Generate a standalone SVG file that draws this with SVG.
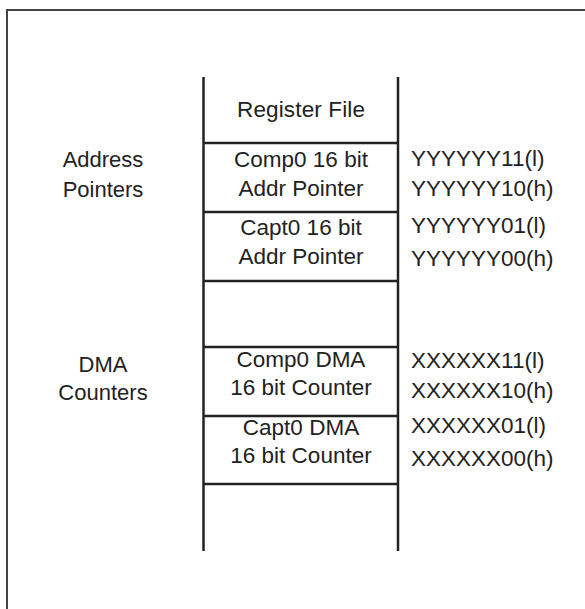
<svg xmlns="http://www.w3.org/2000/svg" width="585" height="609" viewBox="0 0 585 609">
<style>
text{font-family:"Liberation Sans",Arial,sans-serif;font-size:22.5px;fill:#222}
.c{text-anchor:middle}
.l{text-anchor:start}
.s{font-size:22px}
.col{stroke:#222;stroke-width:2.5;fill:none}
.sep{stroke:#222;stroke-width:2.7;fill:none}
</style>
<rect x="0" y="0" width="585" height="609" fill="#fff"/>
<rect id="frame" x="7" y="10" width="600" height="620" fill="none" stroke="#444" stroke-width="2"/>
<g id="connectors">
<line class="col" x1="203.5" y1="77" x2="203.5" y2="551"/>
<line class="col" x1="398" y1="77" x2="398" y2="551"/>
</g>
<g id="register-file"><text class="c" x="301" y="117" textLength="128" lengthAdjust="spacing">Register File</text></g>
<g id="comp0-addr">
<line class="sep" x1="203.5" y1="143" x2="398" y2="143"/>
<text class="c" x="301" y="167">Comp0 16 bit</text>
<text class="c" x="301" y="196">Addr Pointer</text>
</g>
<g id="capt0-addr">
<line class="sep" x1="203.5" y1="212" x2="398" y2="212"/>
<text class="c" x="301" y="235">Capt0 16 bit</text>
<text class="c" x="301" y="264">Addr Pointer</text>
</g>
<g id="gap">
<line class="sep" x1="203.5" y1="281" x2="398" y2="281"/>
</g>
<g id="comp0-dma">
<line class="sep" x1="203.5" y1="347" x2="398" y2="347"/>
<text class="c" x="301" y="367">Comp0 DMA</text>
<text class="c" x="301" y="395">16 bit Counter</text>
</g>
<g id="capt0-dma">
<line class="sep" x1="203.5" y1="416" x2="398" y2="416"/>
<text class="c" x="301" y="435">Capt0 DMA</text>
<text class="c" x="301" y="463">16 bit Counter</text>
</g>
<g id="bottom">
<line class="sep" x1="203.5" y1="484" x2="398" y2="484"/>
</g>
<g id="labels">
<text class="c s" x="103" y="167">Address</text>
<text class="c s" x="103" y="197">Pointers</text>
<text class="c s" x="103" y="372">DMA</text>
<text class="c s" x="103" y="400">Counters</text>
</g>
<g id="addresses">
<text class="l" x="411" y="166">YYYYYY11(l)</text>
<text class="l" x="411" y="196">YYYYYY10(h)</text>
<text class="l" x="411" y="233">YYYYYY01(l)</text>
<text class="l" x="411" y="266">YYYYYY00(h)</text>
<text class="l" x="411" y="368">XXXXXX11(l)</text>
<text class="l" x="411" y="398">XXXXXX10(h)</text>
<text class="l" x="411" y="433">XXXXXX01(l)</text>
<text class="l" x="411" y="466">XXXXXX00(h)</text>
</g>
</svg>
